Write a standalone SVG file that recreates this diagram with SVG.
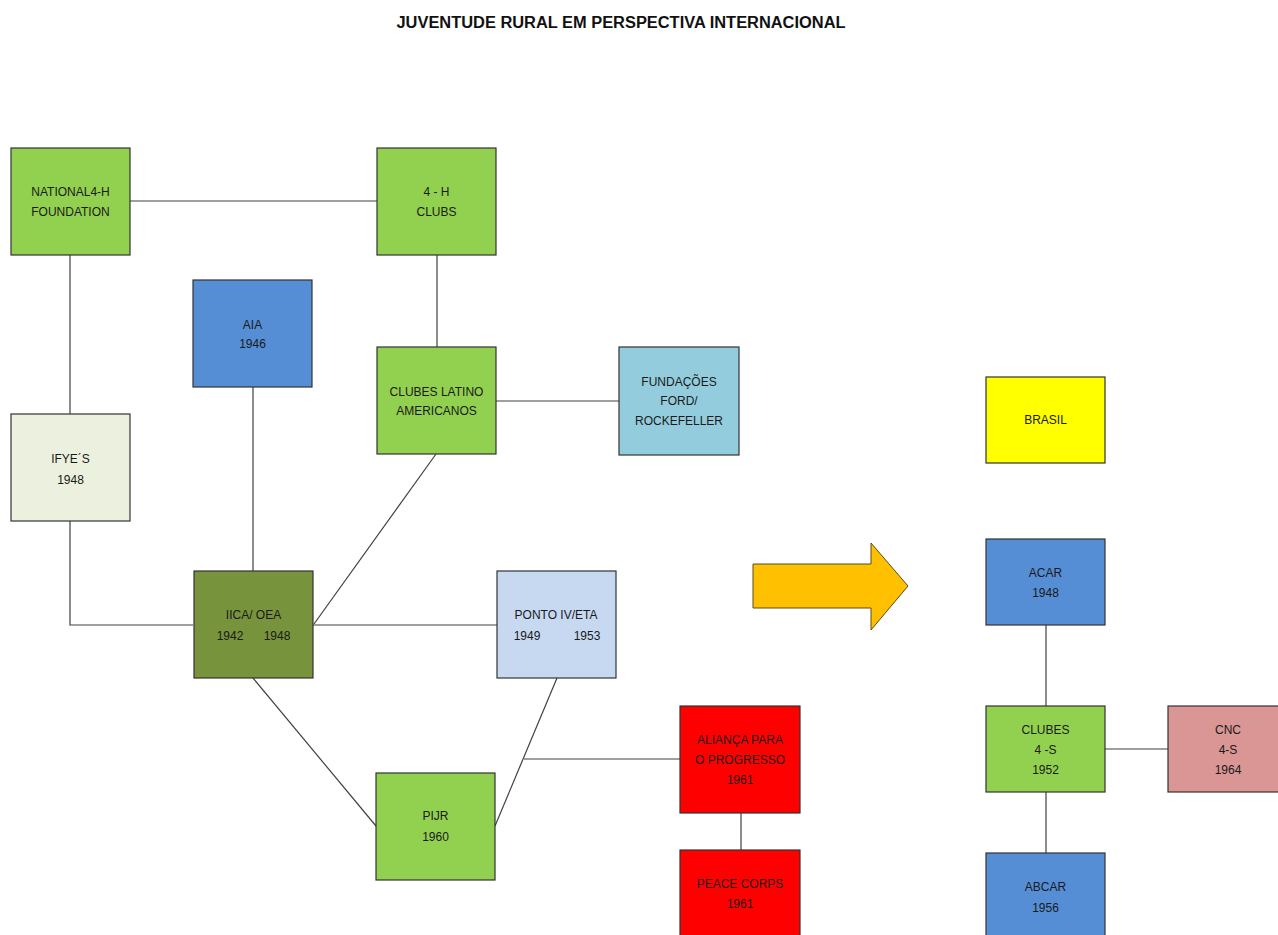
<svg xmlns="http://www.w3.org/2000/svg" width="1278" height="935" viewBox="0 0 1278 935">
<style>
.b{stroke:#333;stroke-width:1.2}
.t{font-family:"Liberation Sans",Arial,sans-serif;font-size:12px;fill:#1a1a1a;text-anchor:middle}
.ti{font-family:"Liberation Sans",Arial,sans-serif;font-size:16px;font-weight:bold;fill:#111;text-anchor:middle}
.c{stroke:#404040;stroke-width:1.2;fill:none}
</style>
<rect width="1278" height="935" fill="#fff"/>
<text class="ti" x="621" y="28" textLength="449" lengthAdjust="spacingAndGlyphs">JUVENTUDE RURAL EM PERSPECTIVA INTERNACIONAL</text>
<g id="connectors">
<line class="c" x1="130" y1="201" x2="377" y2="201"/>
<line class="c" x1="70" y1="255" x2="70" y2="414"/>
<line class="c" x1="437" y1="255" x2="437" y2="347"/>
<line class="c" x1="496" y1="401" x2="619" y2="401"/>
<polyline class="c" points="70,521 70,625 193,625"/>
<line class="c" x1="253" y1="387" x2="253" y2="571"/>
<line class="c" x1="436" y1="454" x2="314" y2="624"/>
<line class="c" x1="313" y1="625" x2="497" y2="625"/>
<line class="c" x1="253" y1="678" x2="376" y2="826"/>
<line class="c" x1="557" y1="678" x2="495" y2="826"/>
<line class="c" x1="524" y1="759" x2="680" y2="759"/>
<line class="c" x1="741" y1="813" x2="741" y2="850"/>
<line class="c" x1="1046" y1="625" x2="1046" y2="706"/>
<line class="c" x1="1105" y1="749" x2="1168" y2="749"/>
<line class="c" x1="1046" y1="792" x2="1046" y2="853"/>
</g>
<g id="national4h"><rect class="b" x="11" y="148" width="119" height="107" fill="#92D050"/><text class="t" x="70.5" y="196">NATIONAL4-H</text><text class="t" x="70.5" y="216">FOUNDATION</text></g>
<g id="clubs4h"><rect class="b" x="377" y="148" width="119" height="107" fill="#92D050"/><text class="t" x="436.5" y="196">4 - H</text><text class="t" x="436.5" y="216">CLUBS</text></g>
<g id="aia"><rect class="b" x="193" y="280" width="119" height="107" fill="#558ED5"/><text class="t" x="252.5" y="329">AIA</text><text class="t" x="252.5" y="348">1946</text></g>
<g id="clubeslatino"><rect class="b" x="377" y="347" width="119" height="107" fill="#92D050"/><text class="t" x="436.5" y="396">CLUBES LATINO</text><text class="t" x="436.5" y="415">AMERICANOS</text></g>
<g id="fundacoes"><rect class="b" x="619" y="347" width="120" height="108" fill="#93CDDD"/><text class="t" x="679" y="386">FUNDAÇÕES</text><text class="t" x="679" y="405">FORD/</text><text class="t" x="679" y="425">ROCKEFELLER</text></g>
<g id="ifyes"><rect class="b" x="11" y="414" width="119" height="107" fill="#EBF1DE"/><text class="t" x="70.5" y="463">IFYE´S</text><text class="t" x="70.5" y="484">1948</text></g>
<g id="iica"><rect class="b" x="194" y="571" width="119" height="107" fill="#77933C"/><text class="t" x="253.5" y="619">IICA/ OEA</text><text class="t" x="230" y="640">1942</text><text class="t" x="277" y="640">1948</text></g>
<g id="ponto"><rect class="b" x="497" y="571" width="119" height="107" fill="#C6D9F1"/><text class="t" x="556" y="619">PONTO IV/ETA</text><text class="t" x="527" y="640">1949</text><text class="t" x="587" y="640">1953</text></g>
<g id="pijr"><rect class="b" x="376" y="773" width="119" height="107" fill="#92D050"/><text class="t" x="435.5" y="820">PIJR</text><text class="t" x="435.5" y="841">1960</text></g>
<g id="alianca"><rect class="b" x="680" y="706" width="120" height="107" fill="#FF0000"/><text class="t" x="740" y="744">ALIANÇA PARA</text><text class="t" x="740" y="764">O PROGRESSO</text><text class="t" x="740" y="784">1961</text></g>
<g id="peacecorps"><rect class="b" x="680" y="850" width="120" height="100" fill="#FF0000"/><text class="t" x="740" y="888">PEACE CORPS</text><text class="t" x="740" y="908">1961</text></g>
<g id="arrow"><polygon points="753,564 871,564 871,543 908,586 871,630 871,608 753,608" fill="#FFC000" stroke="#5a4a1a" stroke-width="1"/></g>
<g id="brasil"><rect class="b" x="986" y="377" width="119" height="86" fill="#FFFF00"/><text class="t" x="1045.5" y="424">BRASIL</text></g>
<g id="acar"><rect class="b" x="986" y="539" width="119" height="86" fill="#558ED5"/><text class="t" x="1045.5" y="577">ACAR</text><text class="t" x="1045.5" y="597">1948</text></g>
<g id="clubes4s"><rect class="b" x="986" y="706" width="119" height="86" fill="#92D050"/><text class="t" x="1045.5" y="734">CLUBES</text><text class="t" x="1045.5" y="754">4 -S</text><text class="t" x="1045.5" y="774">1952</text></g>
<g id="cnc"><rect class="b" x="1168" y="706" width="119" height="86" fill="#D99694"/><text class="t" x="1228" y="734">CNC</text><text class="t" x="1228" y="754">4-S</text><text class="t" x="1228" y="774">1964</text></g>
<g id="abcar"><rect class="b" x="986" y="853" width="119" height="100" fill="#558ED5"/><text class="t" x="1045.5" y="891">ABCAR</text><text class="t" x="1045.5" y="912">1956</text></g>
</svg>
